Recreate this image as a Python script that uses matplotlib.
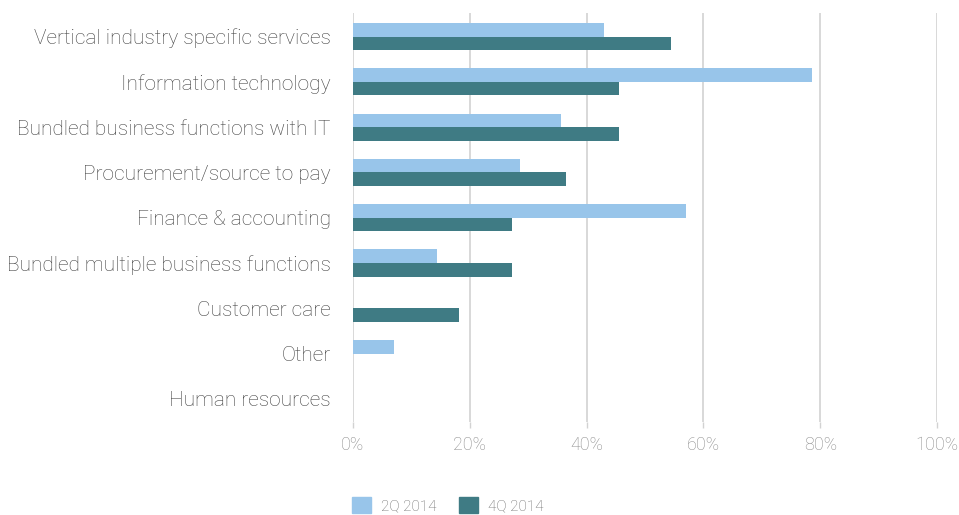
import matplotlib.pyplot as plt
import numpy as np
from matplotlib.patches import Patch

categories = ['Vertical industry specific services', 'Information technology',
              'Bundled business functions with IT', 'Procurement/source to pay',
              'Finance & accounting', 'Bundled multiple business functions',
              'Customer care', 'Other', 'Human resources']
q2_2014 = [42.9, 78.6, 35.7, 28.6, 57.1, 14.3, 0, 7.1, 0]
q4_2014 = [54.5, 45.5, 45.5, 36.4, 27.3, 27.3, 18.2, 0, 0]
series_names = ['2Q 2014', '4Q 2014']
xticks = [0, 20, 40, 60, 80, 100]

light = '#98c5ea'
dark = '#3f7b84'

plt.rcParams['font.family'] = ['Roboto', 'DejaVu Sans']
plt.rcParams['font.weight'] = 'light'

fig = plt.figure(figsize=(9.59, 5.15), dpi=100)
ax = fig.add_axes([353/959, 1-422/515, (937-353)/959, (422-13)/515])

y = np.arange(len(categories))
h = 0.3
ax.barh(y - h/2, q2_2014, height=h, color=light, zorder=3)
ax.barh(y + h/2, q4_2014, height=h, color=dark, zorder=3)

ax.set_xlim(0, 100)
ax.set_ylim(8.51, -0.52)
ax.set_xticks(xticks)
ax.set_xticklabels([f'{t}%' for t in xticks])
ax.set_yticks(y)
ax.set_yticklabels(categories)

for t in xticks:
    ax.axvline(t, color='#d2d2d2', lw=1.2, zorder=1)

for s in ax.spines.values():
    s.set_visible(False)
ax.tick_params(axis='x', colors='#d2d2d2', labelcolor='#8a8a8a', labelsize=13,
               length=4, width=1, pad=6)
ax.tick_params(axis='y', length=0, labelcolor='#404040', labelsize=15, pad=16)

handles = [Patch(color=light, label=series_names[0]), Patch(color=dark, label=series_names[1])]
leg = fig.legend(handles=handles, loc='lower left', bbox_to_anchor=(352/959, 0.004),
                 ncol=2, frameon=False, borderpad=0, borderaxespad=0,
                 handlelength=1.245, handleheight=1.245,
                 columnspacing=1.5, handletextpad=0.65, fontsize=11)
for t in leg.get_texts():
    t.set_color('#6a6a6a')

fig.savefig('out.png', dpi=100)
